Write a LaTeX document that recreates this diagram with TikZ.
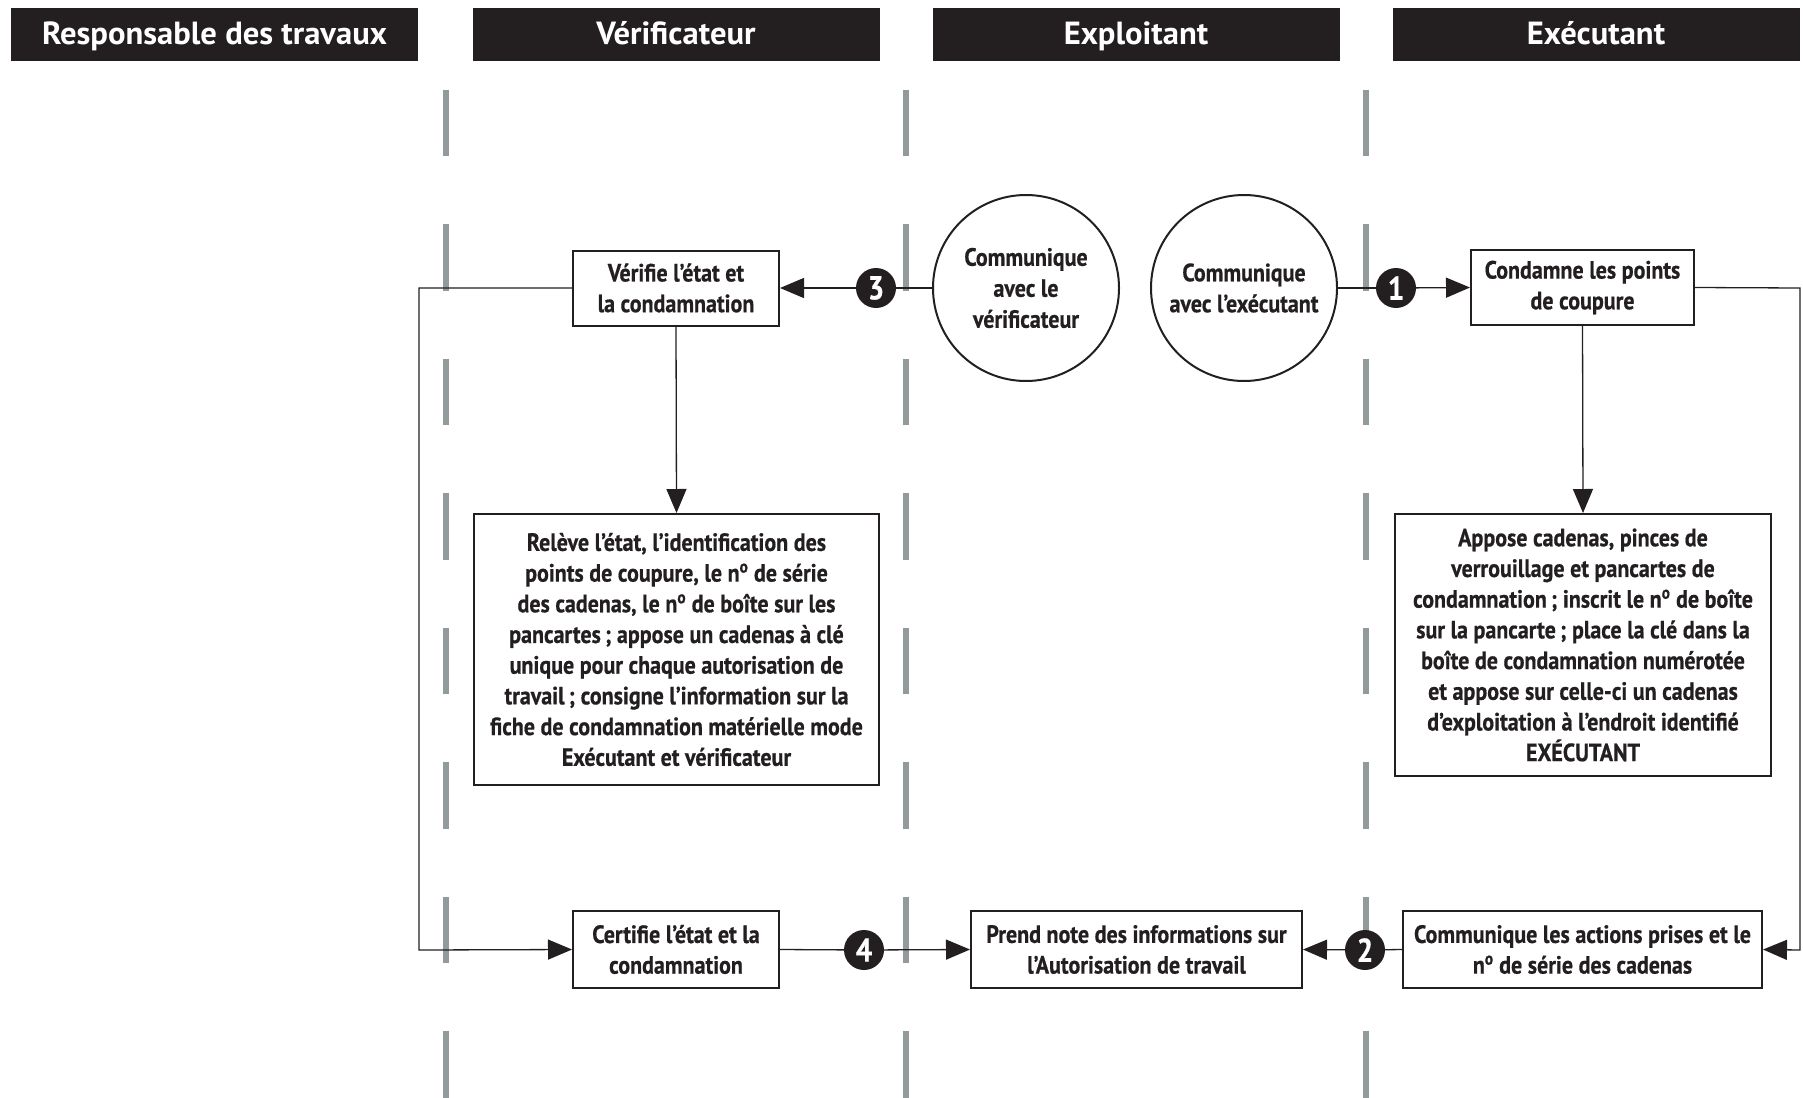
\documentclass[tikz,border=0pt]{standalone}
\usepackage{fontspec}
\setmainfont{PT Sans}[FakeStretch=0.88,FakeBold=0.6]
\newfontfamily\hdrfont{PT Sans}[FakeStretch=1.02]
\usetikzlibrary{arrows.meta}
\definecolor{ink}{HTML}{231F20}
\definecolor{lane}{HTML}{939A9C}
\begin{document}
\begin{tikzpicture}[x=1pt,y=-1pt,
 hdr/.style={fill=ink, text=white, font=\hdrfont\bfseries\fontsize{32}{36}\selectfont, minimum width=407pt, minimum height=53pt, inner sep=0pt, text height=25pt, text depth=5pt},
 box/.style={draw=ink, line width=2pt, text=ink, font=\bfseries\fontsize{25}{30.7}\selectfont, align=center, inner sep=0pt},
 circ/.style={draw=ink, line width=2pt, circle, minimum size=186pt, text=ink, font=\bfseries\fontsize{25}{31}\selectfont, align=center, inner sep=0pt},
 badge/.style={circle, fill=ink, text=white, minimum size=40pt, inner sep=0pt, font=\bfseries\fontsize{33}{33}\selectfont},
 conn/.style={draw=ink, line width=1.3pt},
 arr/.style={conn, -{Triangle[length=24pt,width=20pt]}},
 laneline/.style={draw=lane, line width=6pt, dash pattern=on 66.7pt off 67.8pt}
]
\useasboundingbox (0,0) rectangle (1803,1097);
% headers
\node[hdr] (h1) at (214.5,34.5) {Responsable des travaux};
\node[hdr] (h2) at (676,34.5) {Vérificateur};
\node[hdr] (h3) at (1136,34.5) {Exploitant};
\node[hdr] (h4) at (1596,34.5) {Exécutant};
% lanes
\draw[laneline] (446,89.7) -- (446,1100);
\draw[laneline] (906,89.7) -- (906,1100);
\draw[laneline] (1366,89.7) -- (1366,1100);
% nodes
\node[box, minimum width=206pt, minimum height=75pt] (verif) at (676,288) {Vérifie l’état et\\la condamnation};
\node[box, minimum width=405pt, minimum height=271pt] (releve) at (676.5,649.5) {Relève l’état, l’identification des\\
points de coupure, le n\textsuperscript{o} de série\\
des cadenas, le n\textsuperscript{o} de boîte sur les\\
pancartes\,; appose un cadenas à clé\\
unique pour chaque autorisation de\\
travail\,; consigne l’information sur la\\
fiche de condamnation matérielle mode\\
Exécutant et vérificateur};
\node[box, minimum width=206pt, minimum height=77pt] (certif) at (676,949.5) {Certifie l’état et la\\condamnation};
\node[circ] (c1) at (1026,288) {Communique\\avec le\\vérificateur};
\node[circ] (c2) at (1244,288) {Communique\\avec l’exécutant};
\node[box, minimum width=223pt, minimum height=75pt] (cond) at (1582.5,287.5) {Condamne les points\\de coupure};
\node[box, minimum width=376pt, minimum height=262pt] (appose) at (1583,645) {Appose cadenas, pinces de\\
verrouillage et pancartes de\\
condamnation\,; inscrit le n\textsuperscript{o} de boîte\\
sur la pancarte\,; place la clé dans la\\
boîte de condamnation numérotée\\
et appose sur celle-ci un cadenas\\
d’exploitation à l’endroit identifié\\
EXÉCUTANT};
\node[box, minimum width=359pt, minimum height=77pt] (commact) at (1582.5,949.5) {Communique les actions prises et le\\n\textsuperscript{o} de série des cadenas};
\node[box, minimum width=331pt, minimum height=77pt] (prend) at (1136.5,949.5) {Prend note des informations sur\\l’Autorisation de travail};
% route corners
\coordinate (lt) at (419,288);
\coordinate (lb) at (419,950);
\coordinate (rt) at (1800,288);
\coordinate (rb) at (1800,950);
% badge positions
\coordinate (p3) at (876,288);
\coordinate (p1) at (1396,288);
\coordinate (p4) at (864,950);
\coordinate (p2) at (1365,950);
% connectors
\draw[conn] (c1.west) -- (p3);
\draw[arr] (p3) -- (verif.east);
\draw[conn] (c2.east) -- (p1);
\draw[arr] (p1) -- (cond.west);
\draw[arr] (verif.south) -- (releve.north);
\draw[arr] (cond.south) -- (appose.north);
\draw[arr] (verif.west) -- (lt) -- (lb) -- (certif.west);
\draw[arr] (cond.east) -- (rt) -- (rb) -- (commact.east);
\draw[conn] (certif.east) -- (p4);
\draw[arr] (p4) -- (prend.west);
\draw[conn] (commact.west) -- (p2);
\draw[arr] (p2) -- (prend.east);
% badges
\node[badge] (b3) at (p3) {3};
\node[badge] (b1) at (p1) {1};
\node[badge] (b4) at (p4) {4};
\node[badge] (b2) at (p2) {2};
\end{tikzpicture}
\end{document}
